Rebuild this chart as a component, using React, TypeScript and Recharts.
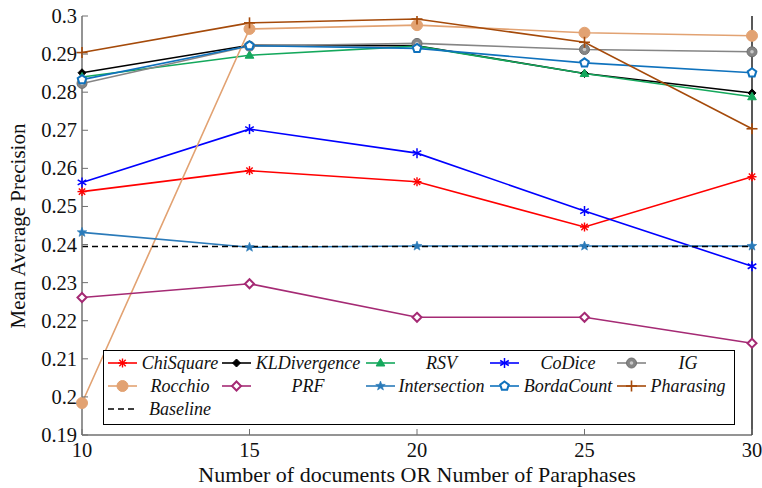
import React from "react";
import { LineChart, Line, XAxis, YAxis, Label } from "recharts";

// x positions (documents / paraphrases)
const docs = [10, 15, 20, 25, 30];

// MAP per method
const chiSquare = [0.2539, 0.2594, 0.2565, 0.2446, 0.2578];
const klDivergence = [0.2851, 0.2923, 0.2922, 0.2849, 0.2798];
const rsv = [0.284, 0.2897, 0.2921, 0.2849, 0.2788];
const coDice = [0.2563, 0.2703, 0.264, 0.2488, 0.2343];
const ig = [0.2823, 0.2921, 0.2928, 0.2912, 0.2906];
const rocchio = [0.1984, 0.2966, 0.2976, 0.2956, 0.2948];
const prf = [0.2261, 0.2297, 0.2209, 0.2209, 0.2141];
const intersection = [0.2432, 0.2393, 0.2396, 0.2396, 0.2396];
const bordaCount = [0.2833, 0.2922, 0.2915, 0.2877, 0.2851];
const pharasing = [0.2904, 0.2982, 0.2992, 0.2931, 0.2704];
const baseline = [0.2395, 0.2395, 0.2395, 0.2395, 0.2395];

const xTicks = [10, 15, 20, 25, 30];
const yTicks = [0.19, 0.2, 0.21, 0.22, 0.23, 0.24, 0.25, 0.26, 0.27, 0.28, 0.29, 0.3];

const FONT = '"Liberation Serif", "Times New Roman", serif';
const W = 762;
const H = 488;
const PLOT = { left: 82, right: 752, top: 16, bottom: 435 };
const AXIS = "#707070";

type Kind =
  | "asterisk"
  | "diamondFilled"
  | "triangle"
  | "triStar"
  | "circleDot"
  | "circle"
  | "diamondHollow"
  | "star5"
  | "pentagon"
  | "plus"
  | "none";

const series = [
  { key: "chiSquare", name: "ChiSquare", values: chiSquare, color: "#ff0000", kind: "asterisk" },
  { key: "klDivergence", name: "KLDivergence", values: klDivergence, color: "#000000", kind: "diamondFilled" },
  { key: "rsv", name: "RSV", values: rsv, color: "#14a85c", kind: "triangle" },
  { key: "coDice", name: "CoDice", values: coDice, color: "#0000ff", kind: "triStar" },
  { key: "ig", name: "IG", values: ig, color: "#858585", kind: "circleDot" },
  { key: "rocchio", name: "Rocchio", values: rocchio, color: "#e2a272", kind: "circle" },
  { key: "prf", name: "PRF", values: prf, color: "#a52a74", kind: "diamondHollow" },
  { key: "intersection", name: "Intersection", values: intersection, color: "#2a7ab9", kind: "star5" },
  { key: "bordaCount", name: "BordaCount", values: bordaCount, color: "#0f72bd", kind: "pentagon" },
  { key: "pharasing", name: "Pharasing", values: pharasing, color: "#a54a0a", kind: "plus" },
  { key: "baseline", name: "Baseline", values: baseline, color: "#000000", kind: "none" },
] as { key: string; name: string; values: number[]; color: string; kind: Kind }[];

const data = docs.map((d, i) => {
  const row: Record<string, number> = { docs: d };
  series.forEach((s) => (row[s.key] = s.values[i]));
  return row;
});

function poly(cx: number, cy: number, r: number, n: number, rot: number) {
  const pts: string[] = [];
  for (let i = 0; i < n; i++) {
    const a = rot + (i * 2 * Math.PI) / n;
    pts.push(`${cx + r * Math.cos(a)},${cy + r * Math.sin(a)}`);
  }
  return pts.join(" ");
}

function star(cx: number, cy: number, r: number) {
  const pts: string[] = [];
  for (let i = 0; i < 10; i++) {
    const a = -Math.PI / 2 + (i * Math.PI) / 5;
    const rr = i % 2 === 0 ? r : r * 0.42;
    pts.push(`${cx + rr * Math.cos(a)},${cy + rr * Math.sin(a)}`);
  }
  return pts.join(" ");
}

function Marker({ kind, cx, cy, color }: { kind: Kind; cx: number; cy: number; color: string }) {
  switch (kind) {
    case "asterisk":
      return (
        <g stroke={color} strokeWidth={1.4}>
          <line x1={cx} y1={cy - 4.5} x2={cx} y2={cy + 4.5} />
          <line x1={cx - 4.5} y1={cy} x2={cx + 4.5} y2={cy} />
          <line x1={cx - 3.2} y1={cy - 3.2} x2={cx + 3.2} y2={cy + 3.2} />
          <line x1={cx - 3.2} y1={cy + 3.2} x2={cx + 3.2} y2={cy - 3.2} />
        </g>
      );
    case "diamondFilled":
      return <polygon points={poly(cx, cy, 4, 4, -Math.PI / 2)} fill={color} stroke={color} />;
    case "triangle":
      return <polygon points={poly(cx, cy + 0.5, 5, 3, -Math.PI / 2)} fill={color} stroke={color} />;
    case "triStar":
      return (
        <g stroke={color} strokeWidth={1.5}>
          <line x1={cx} y1={cy - 5} x2={cx} y2={cy + 5} />
          <line x1={cx - 4.3} y1={cy + 2.5} x2={cx + 4.3} y2={cy - 2.5} />
          <line x1={cx - 4.3} y1={cy - 2.5} x2={cx + 4.3} y2={cy + 2.5} />
        </g>
      );
    case "circleDot":
      return (
        <g>
          <circle cx={cx} cy={cy} r={5} fill={color} stroke="#707070" />
          <circle cx={cx} cy={cy} r={1.8} fill="#c8c8c8" />
        </g>
      );
    case "circle":
      return <circle cx={cx} cy={cy} r={5.5} fill={color} stroke={color} />;
    case "diamondHollow":
      return <polygon points={poly(cx, cy, 4.5, 4, -Math.PI / 2)} fill="#fff" stroke={color} strokeWidth={2} />;
    case "star5":
      return <polygon points={star(cx, cy, 5)} fill={color} stroke={color} strokeWidth={0.6} />;
    case "pentagon":
      return <polygon points={poly(cx, cy, 4.5, 5, -Math.PI / 2)} fill="#fff" stroke={color} strokeWidth={2} />;
    case "plus":
      return (
        <g stroke={color} strokeWidth={1.6}>
          <line x1={cx} y1={cy - 5.5} x2={cx} y2={cy + 5.5} />
          <line x1={cx - 5.5} y1={cy} x2={cx + 5.5} y2={cy} />
        </g>
      );
    default:
      return null;
  }
}

const fmt = (v: number) => String(Number(v.toFixed(2)));

const LeftTick = (props: any) => {
  const { y, payload } = props;
  return (
    <g>
      <line x1={PLOT.left} x2={PLOT.left + 6} y1={y} y2={y} stroke={AXIS} />
      <text x={PLOT.left - 5} y={y} dy={7} textAnchor="end" style={{ fontFamily: FONT, fontSize: 20.5 }} fill="#111">
        {fmt(payload.value)}
      </text>
    </g>
  );
};

const RightTick = (props: any) => {
  const { y } = props;
  return <line x1={PLOT.right} x2={PLOT.right - 6} y1={y} y2={y} stroke={AXIS} />;
};

const BottomTick = (props: any) => {
  const { x, payload } = props;
  return (
    <g>
      <line x1={x} x2={x} y1={PLOT.bottom} y2={PLOT.bottom - 6} stroke={AXIS} />
      <text x={x} y={457} textAnchor="middle" style={{ fontFamily: FONT, fontSize: 20.5 }} fill="#111">
        {payload.value}
      </text>
    </g>
  );
};

const TopTick = (props: any) => {
  const { x } = props;
  return <line x1={x} x2={x} y1={PLOT.top} y2={PLOT.top + 6} stroke={AXIS} />;
};

// legend layout (matlab style, 5 columns)
const colSample = [108, 222, 366, 490, 617];
const colText = [141, 257, 399, 525, 652];
const colTextW = [78, 102, 85, 86, 72];
const rowY = [363, 386, 409];

function LegendBox() {
  return (
    <svg width={W} height={H} style={{ position: "absolute", left: 0, top: 0, pointerEvents: "none" }}>
      <rect x={103.5} y={350.5} width={631} height={74} fill="#fff" stroke="#000" strokeWidth={1} />
      {series.map((s, i) => {
        const col = i % 5;
        const row = Math.floor(i / 5);
        const x0 = colSample[col];
        const y = rowY[row];
        const isBase = s.kind === "none";
        return (
          <g key={s.key}>
            <line
              x1={x0}
              x2={x0 + 29}
              y1={y}
              y2={y}
              stroke={s.color}
              strokeWidth={1.6}
              strokeDasharray={isBase ? "6 4" : undefined}
            />
            <Marker kind={s.kind} cx={x0 + 14.5} cy={y} color={s.color} />
            <text
              x={colText[col] + colTextW[col] / 2}
              y={y + 6}
              textAnchor="middle"
              style={{ fontFamily: FONT, fontSize: 18, fontStyle: "italic" }}
              fill="#111"
            >
              {s.name}
            </text>
          </g>
        );
      })}
    </svg>
  );
}

export default function App() {
  return (
    <div style={{ position: "absolute", left: 0, top: 0, width: W, height: H, background: "#fff" }}>
      <LineChart width={W} height={H} data={data} margin={{ top: 16, right: 0, bottom: 0, left: 0 }}>
        <XAxis
          dataKey="docs"
          type="number"
          domain={[10, 30]}
          ticks={xTicks}
          height={53}
          tickSize={0}
          tickLine={false}
          axisLine={{ stroke: AXIS, strokeWidth: 1.5 }}
          tick={<BottomTick />}
          interval={0}
        >
          <Label
            content={() => (
              <text
                x={(PLOT.left + PLOT.right) / 2}
                y={482}
                textAnchor="middle"
                style={{ fontFamily: FONT, fontSize: 22 }}
                fill="#111"
              >
                Number of documents OR Number of Paraphases
              </text>
            )}
          />
        </XAxis>
        <XAxis
          xAxisId="top"
          orientation="top"
          dataKey="docs"
          type="number"
          domain={[10, 30]}
          ticks={xTicks}
          height={0}
          tickSize={0}
          tickLine={false}
          axisLine={{ stroke: AXIS, strokeWidth: 1.5 }}
          tick={<TopTick />}
          interval={0}
        />
        <YAxis
          type="number"
          domain={[0.19, 0.3]}
          ticks={yTicks}
          width={82}
          tickSize={0}
          tickLine={false}
          axisLine={{ stroke: AXIS, strokeWidth: 1.5 }}
          tick={<LeftTick />}
          interval={0}
          allowDataOverflow
        >
          <Label
            content={() => (
              <text
                x={25}
                y={226}
                transform="rotate(-90 25 226)"
                textAnchor="middle"
                style={{ fontFamily: FONT, fontSize: 21 }}
                fill="#111"
              >
                Mean Average Precision
              </text>
            )}
          />
        </YAxis>
        <YAxis
          yAxisId="right"
          orientation="right"
          type="number"
          domain={[0.19, 0.3]}
          ticks={yTicks}
          width={10}
          tickSize={0}
          tickLine={false}
          axisLine={{ stroke: "#222", strokeWidth: 1.5 }}
          tick={<RightTick />}
          interval={0}
        />
        {series.map((s) => (
          <Line
            key={s.key}
            dataKey={s.key}
            type="linear"
            stroke={s.color}
            strokeWidth={1.6}
            strokeDasharray={s.kind === "none" ? "6 4" : undefined}
            isAnimationActive={false}
            activeDot={false}
            dot={
              s.kind === "none"
                ? false
                : (p: any) => <Marker key={`${s.key}-${p.index}`} kind={s.kind} cx={p.cx} cy={p.cy} color={s.color} />
            }
          />
        ))}
      </LineChart>
      <LegendBox />
    </div>
  );
}
